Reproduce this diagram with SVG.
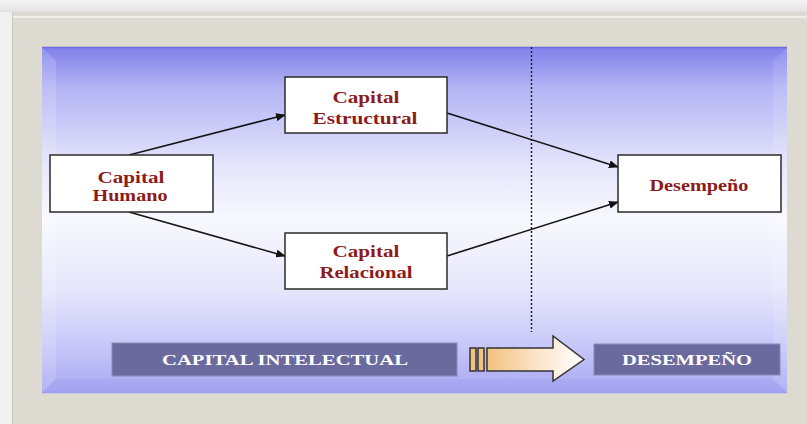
<svg xmlns="http://www.w3.org/2000/svg" width="807" height="424" viewBox="0 0 807 424">
  <defs>
    <linearGradient id="bgTop" x1="0" y1="0" x2="0" y2="1">
      <stop offset="0" stop-color="#f4f4f4"/>
      <stop offset="1" stop-color="#e2e2e2"/>
    </linearGradient>
    <linearGradient id="panel" x1="0" y1="0" x2="0" y2="1">
      <stop offset="0" stop-color="#8080ea"/>
      <stop offset="0.12" stop-color="#b4b4f5"/>
      <stop offset="0.35" stop-color="#e6e6fc"/>
      <stop offset="0.5" stop-color="#f8f8fe"/>
      <stop offset="0.7" stop-color="#e6e6fc"/>
      <stop offset="0.88" stop-color="#c4c4f8"/>
      <stop offset="1" stop-color="#a6a6f2"/>
    </linearGradient>
    <linearGradient id="bodyFill" x1="0" y1="0" x2="1" y2="0">
      <stop offset="0" stop-color="#f2c27e"/>
      <stop offset="0.55" stop-color="#fbe6cf"/>
      <stop offset="1" stop-color="#ffffff"/>
    </linearGradient>
    <marker id="ah" markerWidth="10" markerHeight="8" refX="9" refY="4" orient="auto" markerUnits="userSpaceOnUse">
      <path d="M0,0 L10,4 L0,8 Z" fill="#111"/>
    </marker>
    <style>
      .node rect { fill: #ffffff; stroke: #2a2a2a; stroke-width: 1.5; }
      .node text { font-family: "Liberation Serif", "Times New Roman", serif; font-weight: bold; font-size: 16px; fill: #8e1b1b; text-anchor: middle; }
      .conn line { stroke: #151515; stroke-width: 1.6; marker-end: url(#ah); }
      .lbl rect { fill: #6a6a9f; stroke: #8a8ab8; stroke-width: 1; }
      .lbl text { font-family: "Liberation Serif", "Times New Roman", serif; font-weight: bold; font-size: 15px; fill: #ffffff; text-anchor: middle; }
    </style>
  </defs>

  <!-- background -->
  <rect x="0" y="0" width="807" height="424" fill="#f0f0f0"/>
  <rect x="0" y="0" width="807" height="12" fill="url(#bgTop)"/>
  <!-- outer gray frame -->
  <rect x="12" y="12" width="800" height="420" fill="#dcdad1"/>
  <line x1="13" y1="17" x2="807" y2="17" stroke="#f6f5ee" stroke-width="1.5"/>
  <line x1="12.5" y1="12" x2="12.5" y2="424" stroke="#c8c6be" stroke-width="1"/>

  <!-- inner blue panel -->
  <rect x="42" y="47" width="745" height="346" fill="url(#panel)"/>
  <polygon points="42,47 56,61 56,379 42,393" fill="#ffffff" opacity="0.15"/>
  <polygon points="787,47 773,61 773,379 787,393" fill="#ffffff" opacity="0.12"/>
  <polygon points="42,393 56,379 773,379 787,393" fill="#9a9af2" opacity="0.3"/>
  <line x1="42" y1="47.5" x2="787" y2="47.5" stroke="#6c6cdc" stroke-width="1.5"/>
  <line x1="42" y1="392.5" x2="787" y2="392.5" stroke="#9c9cf0" stroke-width="1.5"/>

  <!-- dotted divider -->
  <line x1="531.5" y1="47" x2="531.5" y2="332" stroke="#222" stroke-width="1.5" stroke-dasharray="2,2"/>

  <!-- connectors -->
  <g id="connectors" class="conn">
    <line x1="129" y1="155" x2="285" y2="115"/>
    <line x1="129" y1="212" x2="285" y2="256"/>
    <line x1="447" y1="113" x2="618" y2="167"/>
    <line x1="447" y1="256" x2="618" y2="202"/>
  </g>

  <!-- nodes -->
  <g id="capital-humano" class="node">
    <rect x="50" y="155" width="163" height="57"/>
    <text x="131" y="183" textLength="67" lengthAdjust="spacingAndGlyphs">Capital</text>
    <text x="130" y="201" textLength="75" lengthAdjust="spacingAndGlyphs">Humano</text>
  </g>
  <g id="capital-estructural" class="node">
    <rect x="285" y="77" width="162" height="56"/>
    <text x="366" y="103" textLength="67" lengthAdjust="spacingAndGlyphs">Capital</text>
    <text x="365" y="124" textLength="105" lengthAdjust="spacingAndGlyphs">Estructural</text>
  </g>
  <g id="capital-relacional" class="node">
    <rect x="285" y="233" width="162" height="56"/>
    <text x="366" y="257" textLength="67" lengthAdjust="spacingAndGlyphs">Capital</text>
    <text x="366" y="278" textLength="93" lengthAdjust="spacingAndGlyphs">Relacional</text>
  </g>
  <g id="desempeno" class="node">
    <rect x="618" y="155" width="163" height="57"/>
    <text x="699" y="191" textLength="99" lengthAdjust="spacingAndGlyphs">Desempeño</text>
  </g>

  <!-- bottom labels -->
  <g id="label-capital-intelectual" class="lbl">
    <rect x="112" y="343" width="345" height="33"/>
    <text x="285" y="365" textLength="246" lengthAdjust="spacingAndGlyphs">CAPITAL INTELECTUAL</text>
  </g>
  <g id="label-desempeno" class="lbl">
    <rect x="594" y="344" width="186" height="31"/>
    <text x="687" y="365" textLength="130" lengthAdjust="spacingAndGlyphs">DESEMPEÑO</text>
  </g>

  <!-- block arrow -->
  <g id="block-arrow">
    <rect x="470" y="348" width="6" height="23" fill="#f2c27e" stroke="#333" stroke-width="1.5"/>
    <rect x="478" y="348" width="6" height="23" fill="#f2c27e" stroke="#333" stroke-width="1.5"/>
    <path d="M487,348 L553,348 L553,336 L584,359.5 L553,381 L553,371 L487,371 Z" fill="url(#bodyFill)" stroke="#333" stroke-width="1.5" stroke-linejoin="miter"/>
  </g>
</svg>
